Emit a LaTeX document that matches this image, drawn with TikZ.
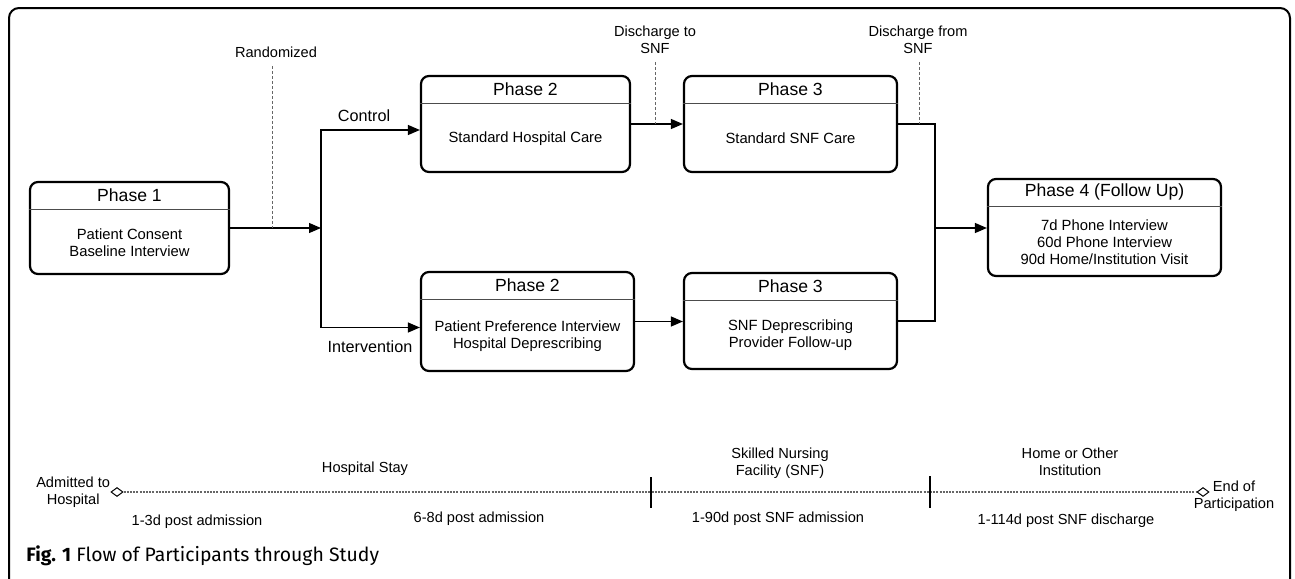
\documentclass[tikz,border=0pt]{standalone}
\usepackage{fontspec}
\setmainfont{Liberation Sans}
\newfontfamily\capfont{Fira Sans}
\usetikzlibrary{arrows.meta,shapes.geometric,calc}

\tikzset{
  phase/.style={draw, line width=1.1pt, rounded corners=4pt, inner sep=0pt},
  phasetitle/.style={anchor=north, minimum height=14pt, inner sep=0pt, font=\fontsize{8.8}{10}\selectfont},
  phasebody/.style={align=center, inner sep=0pt, font=\fontsize{7.4}{8.5}\selectfont},
  split/.style={draw=black!70, line width=0.5pt},
  line/.style={draw, line width=0.6pt},
  flow/.style={line, -{Triangle[length=6pt,width=5pt]}},
  marker/.style={draw=black!60, line width=0.4pt, dash pattern=on 1.5pt off 1pt},
  lbl/.style={align=center, inner sep=1pt, font=\fontsize{7.3}{8.5}\selectfont},
  branch/.style={inner sep=0pt, font=\fontsize{8.1}{9}\selectfont},
  event/.style={diamond, draw, fill=white, line width=0.5pt, minimum width=6pt, minimum height=4.5pt, inner sep=0pt},
  timeline/.style={draw=black!60, line width=0.6pt, dash pattern=on 1pt off 0.6pt}
}

% box with a title row and a body: name, centre, width, height, title, body
\newcommand{\phasebox}[6]{%
  \node[phase, minimum width=#3, minimum height=#4] (#1) at (#2) {};
  \node[phasetitle] (#1t) at (#1.north) {#5};
  \draw[split] (#1t.south -| #1.west) -- (#1t.south -| #1.east);
  \node[phasebody] (#1b) at ($(#1t.south)!0.5!(#1.south)$) {#6};
}

\begin{document}
\begin{tikzpicture}[x=0.5pt, y=-0.5pt]
\useasboundingbox (0,0) rectangle (1295,578);
\clip (0,0) rectangle (1295,578);
\draw[line width=1pt, rounded corners=5pt] (9,8) rectangle (1290,590);

% phases
\phasebox{p1}{129.5,228}{99.5pt}{46pt}{Phase 1}{Patient Consent\\Baseline Interview}
\phasebox{p2a}{525.5,124}{104.5pt}{48pt}{Phase 2}{Standard Hospital Care}
\phasebox{p2b}{527.5,321.5}{106.5pt}{49.5pt}{Phase 2}{Patient Preference Interview\\Hospital Deprescribing}
\phasebox{p3a}{790.5,124}{106.5pt}{48pt}{Phase 3}{Standard SNF Care}
\phasebox{p3b}{790.5,321}{106.5pt}{48pt}{Phase 3}{SNF Deprescribing\\Provider Follow-up}
\phasebox{p4}{1104.5,227.5}{116.5pt}{48.5pt}{Phase 4 (Follow Up)}{7d Phone Interview\\60d Phone Interview\\90d Home/Institution Visit}

% flow
\coordinate (fork) at (321,228);
\coordinate (merge) at (935,228);
\draw[flow] (p1) -- (fork);
\draw[flow] (fork) |- ([yshift=-3pt]p2a.west);
\draw[flow] (fork) |- ([yshift=-3pt]p2b.west);
\node[branch] (ctl) at (364,116) {Control};
\node[branch] (int) at (370,347) {Intervention};
\draw[flow] (p2a) -- (p3a);
\draw[flow] (p2b.east) -- (p2b.east -| p3b.west);
\draw[line] (p3a) -| (merge);
\draw[line] (p3b) -| (merge);
\draw[flow] (merge) -- (merge -| p4.west);

% events
\node[lbl] (rand) at (276,52) {Randomized};
\coordinate (randpt) at (272,228);
\draw[marker] ([yshift=-3pt]randpt |- rand.south) -- (randpt);
\node[lbl] (dis1) at (655,39.5) {Discharge to\\SNF};
\coordinate (dis1pt) at (655,124);
\draw[marker] ([yshift=-3pt]dis1pt |- dis1.south) -- (dis1pt);
\node[lbl] (dis2) at (918,39.5) {Discharge from\\SNF};
\coordinate (dis2pt) at (919,124);
\draw[marker] ([yshift=-3pt]dis2pt |- dis2.south) -- (dis2pt);

% timeline
\node[event] (admit) at (117,492) {};
\node[event] (finish) at (1203,492) {};
\draw[timeline] (admit) -- (finish);
\draw[line width=0.6pt] (651,477) -- (651,508);
\draw[line width=0.6pt] (930,476) -- (930,508);
\node[lbl, anchor=east, inner sep=0pt] (admitl) at (admit.west) {Admitted to\\Hospital};
\node[lbl] (finishl) at (1234,496.5) {End of\\Participation};
\node[lbl] (hosp) at (365,469) {Hospital Stay};
\node[lbl] (snf) at (780,463.5) {Skilled Nursing\\Facility (SNF)};
\node[lbl] (home) at (1070,461.5) {Home or Other\\Institution};
\node[lbl] (t1) at (197,522) {1-3d post admission};
\node[lbl] (t2) at (479,519) {6-8d post admission};
\node[lbl] (t3) at (778,519) {1-90d post SNF admission};
\node[lbl] (t4) at (1066,521) {1-114d post SNF discharge};

\node[anchor=west, inner sep=0pt, font=\capfont\fontsize{9.7}{12}\selectfont] (cap) at (26,556) {\textbf{Fig. 1} Flow of Participants through Study};
\end{tikzpicture}
\end{document}
